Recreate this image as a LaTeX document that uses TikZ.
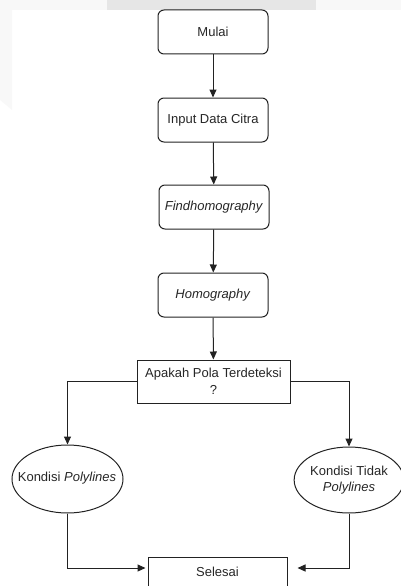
\documentclass[tikz,border=0pt]{standalone}
\usepackage{fontspec}
\setmainfont{Liberation Sans}
\usetikzlibrary{arrows.meta,shapes.geometric}
\definecolor{txt}{HTML}{262626}
\definecolor{ln}{HTML}{222222}
\definecolor{band}{HTML}{E6E6E6}
\definecolor{tint}{HTML}{F8F8F8}
\tikzset{
  proc/.style={draw=ln, line width=1pt, rounded corners=6pt, minimum width=110pt, minimum height=44pt, inner sep=0pt, text=txt, font=\fontsize{13}{15}\selectfont, align=center},
  sqbox/.style={draw=ln, line width=1pt, inner sep=0pt, text=txt, font=\fontsize{13}{16.5}\selectfont, align=center},
  ell/.style={draw=ln, line width=1pt, ellipse, inner sep=0pt, text=txt, font=\fontsize{13}{16}\selectfont, align=center},
  conn/.style={draw=ln, line width=1pt, -{Triangle[length=8pt,width=7pt]}},
}
\begin{document}
\begin{tikzpicture}[x=1pt,y=-1pt]
\useasboundingbox (0,0) rectangle (401,586);
\clip (0,0) rectangle (401,586);
\fill[tint] (0,0) rectangle (401,10);
\fill[tint] (0,0) -- (12,0) -- (12,110) -- (0,100) -- cycle;
\fill[band] (107,0) rectangle (316,10);
\node[proc] (mulai) at (213,32) {Mulai};
\node[proc] (input) at (213,120) {Input Data Citra};
\node[proc] (find) at (214,207) {\textit{Findhomography}};
\node[proc] (homo) at (213,295) {\textit{Homography}};
\node[sqbox, minimum width=153pt, minimum height=43pt] (dec) at (213.5,381.5) {Apakah Pola Terdeteksi\\?};
\node[ell, minimum width=111pt, minimum height=68pt] (kp) at (67.5,479) {};
\node[text=txt, font=\fontsize{13}{16}\selectfont] (kpt) at (67,478) {Kondisi \textit{Polylines}};
\node[ell, minimum width=104pt, minimum height=66pt] (ktp) at (349,480) {Kondisi Tidak\\\textit{Polylines}};
\node[sqbox, minimum width=139pt, minimum height=50pt, anchor=north] (sel) at (217.5,557) {};
\node[text=txt, font=\fontsize{13}{16}\selectfont] (selt) at (217.5,572) {Selesai};
\draw[conn] (mulai) -- (input);
\draw[conn] (input) -- (find);
\draw[conn] (find) -- (homo);
\draw[conn] (homo) -- (dec);
\draw[conn] (dec.west) -| (kp.north);
\draw[conn] (dec.east) -| (ktp.north);
\coordinate (lin) at (sel.west |- 0,568);
\coordinate (rin) at (sel.east |- 0,568);
\draw[conn, shorten >=2pt] (kp.south) |- (lin);
\draw[conn, shorten >=10pt] (ktp.south) |- (rin);
\end{tikzpicture}
\end{document}
